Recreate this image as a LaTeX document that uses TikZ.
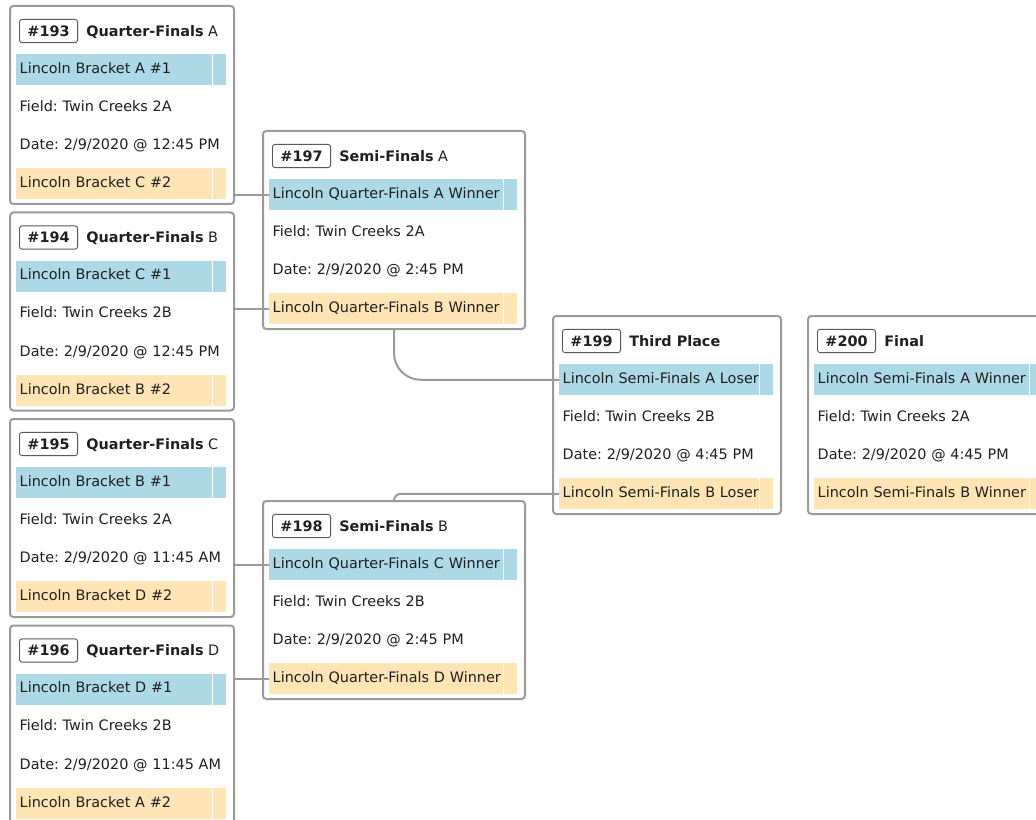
\documentclass[tikz,border=0pt]{standalone}
\usepackage{fontspec}
\setmainfont{DejaVu Sans}
\usepackage{xcolor}
\usetikzlibrary{positioning}
\frenchspacing

\definecolor{seedblue}{HTML}{ADD8E6}
\definecolor{seedtan}{HTML}{FFE4B5}
\definecolor{framegray}{HTML}{9A9A9A}

% one game card: #1 name, #2 top left, #3 card width, #4 game number, #5 round,
% #6 first team, #7 field, #8 date, #9 second team
\newcommand{\game}[9]{
    \node[gamebox, minimum width=#3, anchor=north west] (#1) at #2 {};
    \pgfmathsetlengthmacro{\rowwidth}{#3-15.7pt}
    \node[gametag, anchor=west] (#1-tag) at ([shift={(10,26)}]#1.north west) {\textbf{\##4}};
    \node[anchor=base west, inner sep=0pt] (#1-title) at ([xshift=6pt]#1-tag.base east) {#5};
    \node[slot, homeslot, text width=\rowwidth, anchor=north west] (#1-home) at ([shift={(7,49)}]#1.north west) {\mbox{#6}};
    \node[slot, text width=\rowwidth, below=4.875pt of #1-home] (#1-field) {\mbox{#7}};
    \node[slot, text width=\rowwidth, below=4.875pt of #1-field] (#1-date) {\mbox{#8}};
    \node[slot, awayslot, text width=\rowwidth, below=4.875pt of #1-date] (#1-away) {\mbox{#9}};
}

\begin{document}
\begin{tikzpicture}[x=0.75pt, y=-0.75pt,
        every node/.style={font=\fontsize{10.8pt}{13pt}\selectfont, text=black!88},
        gamebox/.style={draw=framegray, line width=1.5pt, rounded corners=2.5pt, fill=white, minimum height=148.5pt, inner sep=0pt},
        gametag/.style={draw=black!65, line width=0.7pt, rounded corners=2pt, inner xsep=6pt, inner ysep=0pt, minimum height=17.5pt},
        slot/.style={minimum height=23.25pt, inner xsep=2.6pt, inner ysep=0pt, align=left, text height=8pt, text depth=2.5pt},
        divider/.style={path picture={\draw[white, line width=1pt] ([xshift=-10.5pt]path picture bounding box.north east) -- ([xshift=-10.5pt]path picture bounding box.south east);}},
        homeslot/.style={fill=seedblue, divider},
        awayslot/.style={fill=seedtan, divider},
        link/.style={draw=framegray, line width=1.5pt}]
    \useasboundingbox (0,0) rectangle (1036,820);

    % quarter-finals
    \game{qfa}{(9,5)}{168pt}{193}{\textbf{Quarter-Finals} A}{Lincoln Bracket A \#1}{Field: Twin Creeks 2A}{Date: 2/9/2020 @ 12:45 PM}{Lincoln Bracket C \#2}
    \game{qfb}{(9,211.5)}{168pt}{194}{\textbf{Quarter-Finals} B}{Lincoln Bracket C \#1}{Field: Twin Creeks 2B}{Date: 2/9/2020 @ 12:45 PM}{Lincoln Bracket B \#2}
    \game{qfc}{(9,418)}{168pt}{195}{\textbf{Quarter-Finals} C}{Lincoln Bracket B \#1}{Field: Twin Creeks 2A}{Date: 2/9/2020 @ 11:45 AM}{Lincoln Bracket D \#2}
    \game{qfd}{(9,624.5)}{168pt}{196}{\textbf{Quarter-Finals} D}{Lincoln Bracket D \#1}{Field: Twin Creeks 2B}{Date: 2/9/2020 @ 11:45 AM}{Lincoln Bracket A \#2}

    % semi-finals
    \game{sfa}{(262,130)}{196.5pt}{197}{\textbf{Semi-Finals} A}{Lincoln Quarter-Finals A Winner}{Field: Twin Creeks 2A}{Date: 2/9/2020 @ 2:45 PM}{Lincoln Quarter-Finals B Winner}
    \game{sfb}{(262,500)}{196.5pt}{198}{\textbf{Semi-Finals} B}{Lincoln Quarter-Finals C Winner}{Field: Twin Creeks 2B}{Date: 2/9/2020 @ 2:45 PM}{Lincoln Quarter-Finals D Winner}

    % third place and final
    \game{tp}{(552,315)}{171pt}{199}{\textbf{Third Place}}{Lincoln Semi-Finals A Loser}{Field: Twin Creeks 2B}{Date: 2/9/2020 @ 4:45 PM}{Lincoln Semi-Finals B Loser}
    \game{fin}{(807,315)}{182.25pt}{200}{\textbf{Final}}{Lincoln Semi-Finals A Winner}{Field: Twin Creeks 2A}{Date: 2/9/2020 @ 4:45 PM}{Lincoln Semi-Finals B Winner}

    \draw[link] (qfa.east |- sfa-home.west) -- (sfa-home.west);  % winner of A
    \draw[link] (qfb.east |- sfa-away.west) -- (sfa-away.west);  % winner of B
    \draw[link] (qfc.east |- sfb-home.west) -- (sfb-home.west);  % winner of C
    \draw[link] (qfd.east |- sfb-away.west) -- (sfb-away.west);  % winner of D
    \draw[link, rounded corners=20pt] (sfa.south) |- (tp-home.west); % loser of semi A
    \draw[link, rounded corners=5pt] (sfb.north) |- (tp-away.west);  % loser of semi B
\end{tikzpicture}
\end{document}
